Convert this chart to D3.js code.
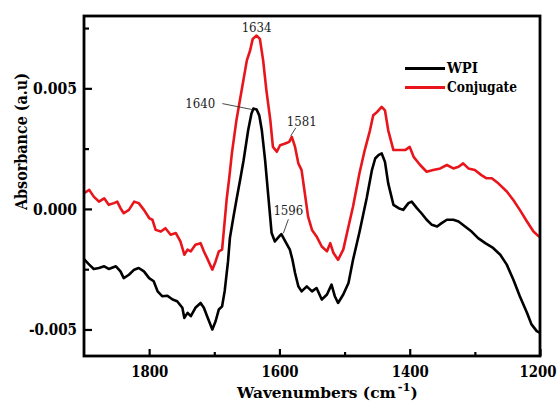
<!DOCTYPE html>
<html><head><meta charset="utf-8">
<script src="https://cdn.jsdelivr.net/npm/d3@7"></script>
<style>
html,body{margin:0;padding:0;background:#fff;}
svg{display:block;}
</style></head>
<body>
<svg id="chart" width="560" height="410"></svg>
<script>
// ---- data ----
const wpiWavenumbers = [1900,1892,1885,1877,1869,1862,1851,1844,1839,1831,1823,1816,1808,1800,1793,1787,1780,1772,1764,1757,1749,1746,1741,1736,1729,1721,1716,1711,1703,1698,1693,1688,1684,1679,1676,1671,1666,1660,1655,1648,1643,1640,1635,1631,1627,1622,1617,1612,1607,1599,1597,1591,1584,1580,1576,1571,1566,1558,1550,1543,1535,1527,1520,1515,1510,1502,1494,1487,1477,1466,1458,1453,1448,1443,1438,1433,1425,1417,1410,1402,1397,1389,1382,1374,1366,1358,1351,1343,1333,1325,1315,1305,1295,1284,1272,1261,1251,1241,1231,1220,1213,1205,1200];
const wpiValues = [-2.08,-2.31,-2.49,-2.45,-2.38,-2.49,-2.38,-2.59,-2.87,-2.73,-2.52,-2.45,-2.59,-2.87,-3.00,-3.42,-3.62,-3.60,-3.76,-3.83,-4.10,-4.52,-4.31,-4.45,-4.10,-3.90,-4.10,-4.45,-5.00,-4.66,-4.17,-4.04,-3.40,-2.20,-1.20,-0.40,0.37,1.25,2.02,3.26,3.95,4.16,4.12,3.88,3.26,2.02,0.51,-1.00,-1.35,-1.10,-1.05,-1.35,-1.69,-2.11,-2.66,-3.21,-3.42,-3.21,-3.42,-3.28,-3.76,-3.55,-3.14,-3.62,-3.90,-3.55,-3.07,-2.11,-0.95,0.45,1.61,2.09,2.23,2.30,1.95,1.06,0.17,0.03,-0.04,0.24,0.30,0.03,-0.18,-0.45,-0.66,-0.73,-0.59,-0.45,-0.45,-0.52,-0.73,-0.94,-1.21,-1.42,-1.62,-1.90,-2.31,-2.93,-3.62,-4.31,-4.79,-5.07,-5.14];

const conjWavenumbers = [1900,1892,1885,1877,1869,1862,1854,1849,1844,1839,1831,1823,1816,1808,1800,1795,1790,1782,1775,1767,1759,1752,1746,1741,1736,1729,1721,1716,1711,1703,1698,1693,1688,1685,1681,1677,1673,1666,1658,1650,1645,1641,1635,1630,1625,1620,1614,1610,1604,1599,1591,1585,1581,1576,1571,1566,1561,1556,1550,1543,1535,1527,1522,1517,1510,1502,1494,1487,1477,1469,1461,1456,1450,1443,1438,1433,1425,1417,1407,1400,1394,1384,1374,1364,1353,1343,1333,1325,1318,1310,1300,1290,1282,1274,1264,1251,1241,1231,1220,1210,1202,1200];
const conjValues = [0.65,0.79,0.51,0.30,0.44,0.17,0.24,0.30,0.03,-0.18,-0.04,0.30,0.24,-0.04,-0.38,-0.45,-0.87,-0.94,-0.80,-1.07,-1.00,-1.35,-1.90,-1.69,-1.76,-1.49,-1.42,-1.76,-2.04,-2.52,-2.18,-1.76,-1.69,-0.80,0.40,1.30,2.30,3.68,4.92,6.16,6.57,7.05,7.19,7.05,6.16,4.92,3.68,2.57,2.37,2.64,2.71,2.78,2.99,2.57,1.89,1.61,0.65,-0.32,-0.87,-1.14,-1.56,-1.76,-1.42,-1.83,-2.11,-1.69,-0.73,0.10,1.50,2.44,3.26,3.88,4.02,4.23,4.09,3.26,2.44,2.44,2.44,2.57,2.16,1.82,1.54,1.61,1.68,1.82,1.68,1.75,1.89,1.68,1.61,1.40,1.27,1.27,1.06,0.72,0.37,-0.04,-0.52,-0.94,-1.14,-1.14];
const valueScale = 0.001; // values above are in units of 1e-3

const seriesNames = ["WPI", "Conjugate"];
const xTicks = [1800, 1600, 1400, 1200];
const xMinorTicks = [1700, 1500, 1300];
const yTicks = [-0.005, 0.000, 0.005];
const yMinorTicks = [-0.0025, 0.0025, 0.0075];
const peakLabels = ["1634", "1640", "1581", "1596"];
const peakWavenumbers = [1635, 1640, 1581, 1597];
const peakSeries = [1, 0, 1, 0];

// ---- layout ----
const svg = d3.select("#chart");
const m = {left: 84, top: 16, right: 540, bottom: 356};
const x = d3.scaleLinear().domain([1900, 1200]).range([m.left, m.right]);
const y = d3.scaleLinear().domain([-0.0061, 0.008]).range([m.bottom, m.top]);
const colors = ["#000000", "#e8161c"];
const serif = "'DejaVu Serif', serif";

const series = [
  wpiWavenumbers.map((w, i) => ({w, v: wpiValues[i] * valueScale})),
  conjWavenumbers.map((w, i) => ({w, v: conjValues[i] * valueScale}))
];

svg.append("defs").append("clipPath").attr("id", "clip")
  .append("rect").attr("x", m.left).attr("y", m.top)
  .attr("width", m.right - m.left).attr("height", m.bottom - m.top);

const line = d3.line().x(d => x(d.w)).y(d => y(d.v)).curve(d3.curveLinear);

[1, 0].forEach(si => {
  svg.append("path").datum(series[si])
    .attr("d", line).attr("fill", "none")
    .attr("stroke", colors[si]).attr("stroke-width", 2.6)
    .attr("stroke-linejoin", "round").attr("stroke-linecap", "round")
    .attr("clip-path", "url(#clip)");
});

// axes (ticks inward)
const yFmt = v => d3.format(".3f")(v).replace("\u2212", "-");
const xAxis = d3.axisBottom(x).tickValues(xTicks).tickSize(-7).tickPadding(9).tickFormat(d3.format("d"));
const gx = svg.append("g").attr("transform", `translate(0,${m.bottom})`).call(xAxis);
const gxm = svg.append("g").attr("transform", `translate(0,${m.bottom})`)
  .call(d3.axisBottom(x).tickValues(xMinorTicks).tickSize(-4).tickFormat(""));
const yAxis = d3.axisLeft(y).tickValues(yTicks).tickSize(-8).tickPadding(7).tickFormat(yFmt);
const gy = svg.append("g").attr("transform", `translate(${m.left},0)`).call(yAxis);
const gym = svg.append("g").attr("transform", `translate(${m.left},0)`)
  .call(d3.axisLeft(y).tickValues(yMinorTicks).tickSize(-5).tickFormat(""));

[gx, gxm, gy, gym].forEach(g => {
  g.attr("font-family", serif);
  g.select(".domain").remove();
  g.selectAll(".tick line").attr("stroke", "#000").attr("stroke-width", 2.2);
});
[gx, gy].forEach(g => {
  g.selectAll(".tick text").attr("fill", "#000")
    .style("font-family", serif).style("font-weight", "bold").style("font-size", "16.5px")
    .attr("lengthAdjust", "spacingAndGlyphs");
});
gx.selectAll(".tick text").attr("dy", "0.71em").attr("textLength", 37);
// last label sits at the right edge: keep it inside the picture
gx.selectAll(".tick text").filter(d => d === 1200).attr("text-anchor", "end").attr("x", 16);
gy.selectAll(".tick text").attr("textLength", function() { return this.textContent.length > 5 ? 48 : 44; });

// frame
svg.append("rect").attr("x", m.left).attr("y", m.top)
  .attr("width", m.right - m.left).attr("height", m.bottom - m.top)
  .attr("fill", "none").attr("stroke", "#000").attr("stroke-width", 2.8);

// x axis title (single text with superscript)
const xt = svg.append("text").attr("x", 237).attr("y", 398)
  .style("font-family", serif).style("font-weight", "bold").style("font-size", "17px");
const xtMain = xt.append("tspan").text("Wavenumbers (cm");
const natural = xtMain.node().getComputedTextLength();
const fs = Math.min(17, 17 * 159 / natural);
xt.style("font-size", fs + "px");
xt.append("tspan").attr("dx", 2).attr("dy", -7).style("font-size", "11.5px").text("-1");
xt.append("tspan").attr("dy", 7).text(")");

svg.append("text").attr("transform", "translate(27,141.5) rotate(-90)")
  .attr("text-anchor", "middle").attr("textLength", 137).attr("lengthAdjust", "spacingAndGlyphs")
  .style("font-family", serif).style("font-weight", "bold").style("font-size", "16px")
  .text("Absorbance (a.u)");

// legend
const legendYs = [68.5, 87.5];
seriesNames.forEach((name, i) => {
  svg.append("line").attr("x1", 405).attr("x2", 445)
    .attr("y1", legendYs[i]).attr("y2", legendYs[i])
    .attr("stroke", colors[i]).attr("stroke-width", 2.8);
  svg.append("text").attr("x", 447).attr("y", legendYs[i] + 4.5)
    .attr("textLength", i === 0 ? 31 : 70).attr("lengthAdjust", "spacingAndGlyphs")
    .style("font-family", serif).style("font-weight", "bold").style("font-size", "14px")
    .text(name);
});

// peak annotations
const annStyle = [
  {dx: 0, dy: -4, anchor: "middle", lead: null},
  {dx: -38, dy: -1, anchor: "end", lead: [-31, -5, -1, 1]},
  {dx: 10, dy: -11, anchor: "middle", lead: [4, -9, -1, -1]},
  {dx: 7, dy: -19, anchor: "middle", lead: [7, -15, 2, -1]}
];
peakLabels.forEach((lab, i) => {
  const d = series[peakSeries[i]].find(p => p.w === peakWavenumbers[i]);
  const px = x(d.w), py = y(d.v), s = annStyle[i];
  svg.append("text").attr("x", px + s.dx).attr("y", py + s.dy)
    .attr("text-anchor", s.anchor).attr("textLength", 30).attr("lengthAdjust", "spacingAndGlyphs")
    .style("font-family", serif).style("font-size", "13px").attr("fill", "#222")
    .text(lab);
  if (s.lead) {
    svg.append("line").attr("x1", px + s.lead[0]).attr("y1", py + s.lead[1])
      .attr("x2", px + s.lead[2]).attr("y2", py + s.lead[3])
      .attr("stroke", "#333").attr("stroke-width", 0.9);
  }
});
</script>
</body></html>
